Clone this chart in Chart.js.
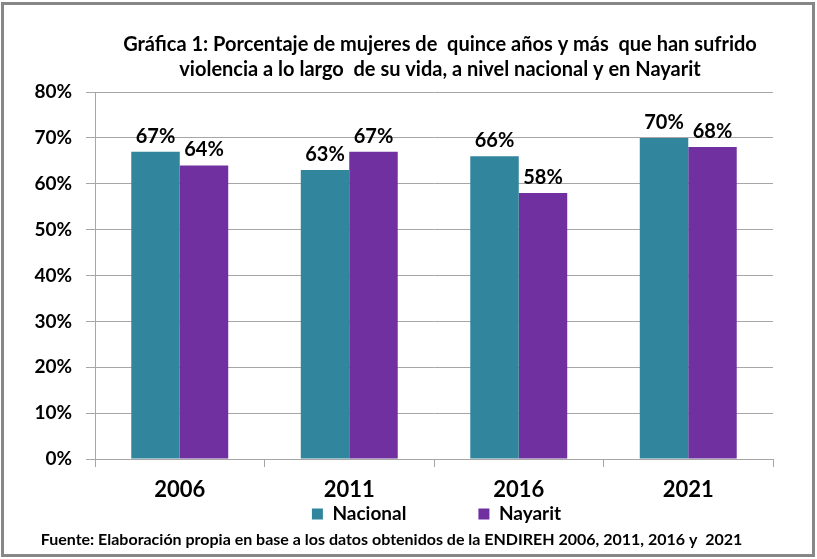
<!DOCTYPE html>
<html>
<head>
<meta charset="utf-8">
<script src="https://cdn.jsdelivr.net/npm/chart.js@4.4.0/dist/chart.umd.min.js"></script>
<style>
  html, body { margin: 0; padding: 0; background: #ffffff; }
  #wrap { position: relative; width: 817px; height: 559px; }
  #frame { position: absolute; left: 1px; top: 2px; width: 808px; height: 549px; border: 3px solid #878787; pointer-events: none; }
  canvas { position: absolute; left: 0; top: 0; }
</style>
</head>
<body>
<div id="wrap">
  <canvas id="c" width="817" height="559"></canvas>
  <div id="frame"></div>
</div>
<script>
const categories = ['2006', '2011', '2016', '2021'];
const nacional = [67, 63, 66, 70];
const nayarit = [64, 67, 58, 68];
const seriesNames = ['Nacional', 'Nayarit'];
const titleLines = [
  'Gráfica 1: Porcentaje de mujeres de  quince años y más  que han sufrido',
  'violencia a lo largo  de su vida, a nivel nacional y en Nayarit'
];
const footnote = 'Fuente: Elaboración propia en base a los datos obtenidos de la ENDIREH 2006, 2011, 2016 y  2021';

const FONT = 'Lato, "Open Sans", sans-serif';
const GRID = '#a6a6a6';
const LEGEND_PAD = 72;

const valueLabels = {
  id: 'valueLabels',
  afterDatasetsDraw(chart) {
    const ctx = chart.ctx;
    ctx.save();
    ctx.font = 'bold 20px ' + FONT;
    ctx.fillStyle = '#000000';
    ctx.textAlign = 'center';
    ctx.textBaseline = 'alphabetic';
    chart.data.datasets.forEach((ds, i) => {
      chart.getDatasetMeta(i).data.forEach((bar, j) => {
        ctx.fillText(ds.data[j] + '%', bar.x, bar.y - 9);
      });
    });
    ctx.restore();
  }
};

const placeBlocks = {
  id: 'placeBlocks',
  afterLayout(chart) {
    const a = chart.chartArea;
    if (chart.titleBlock) {
      chart.titleBlock.left = a.left + 12;
      chart.titleBlock.right = a.right;
    }
    const lg = chart.legend;
    if (lg) {
      lg.left = a.left + 5;
      lg.right = a.right;
      lg.top = a.bottom + 45.5 - LEGEND_PAD;
    }
  }
};

new Chart(document.getElementById('c'), {
  type: 'bar',
  data: {
    labels: categories,
    datasets: [
      { label: seriesNames[0], data: nacional, backgroundColor: '#31859C', borderWidth: 0 },
      { label: seriesNames[1], data: nayarit, backgroundColor: '#7030A0', borderWidth: 0 }
    ]
  },
  options: {
    responsive: false,
    animation: false,
    devicePixelRatio: 1,
    layout: { padding: { top: 8, left: 10, right: 44, bottom: 10 } },
    datasets: { bar: { categoryPercentage: 0.572, barPercentage: 1.0 } },
    scales: {
      x: {
        offset: true,
        grid: { display: true, offset: true, drawOnChartArea: false, drawTicks: true, tickLength: 8, color: GRID },
        border: { display: true, color: GRID, width: 1 },
        ticks: { color: '#000000', padding: 10, font: { family: FONT, size: 22, weight: 'bold', lineHeight: 1.2 } }
      },
      y: {
        min: 0, max: 80,
        afterFit(s) { s.width = 85; },
        grid: { color: GRID, tickLength: 9, drawTicks: true },
        border: { display: true, color: GRID, width: 1 },
        ticks: {
          stepSize: 10, color: '#000000', padding: 14,
          font: { family: FONT, size: 19, weight: 'bold' },
          callback: v => v + '%'
        }
      }
    },
    plugins: {
      title: {
        display: true, text: titleLines, color: '#000000',
        font: { family: FONT, size: 20, weight: 'bold', lineHeight: 1.25 },
        padding: { top: 24.5, bottom: 9.5 }
      },
      subtitle: {
        display: true, position: 'bottom', text: footnote, color: '#000000',
        font: { family: FONT, size: 16, weight: 'bold', lineHeight: 1.2 },
        padding: { top: 4, bottom: 0 }
      },
      legend: {
        display: true, position: 'bottom', maxHeight: 12.4,
        labels: {
          boxWidth: 11, boxHeight: 11, padding: LEGEND_PAD, color: '#000000',
          font: { family: FONT, size: 19, weight: 'bold' }
        }
      },
      tooltip: { enabled: false }
    }
  },
  plugins: [valueLabels, placeBlocks]
});
</script>
</body>
</html>
